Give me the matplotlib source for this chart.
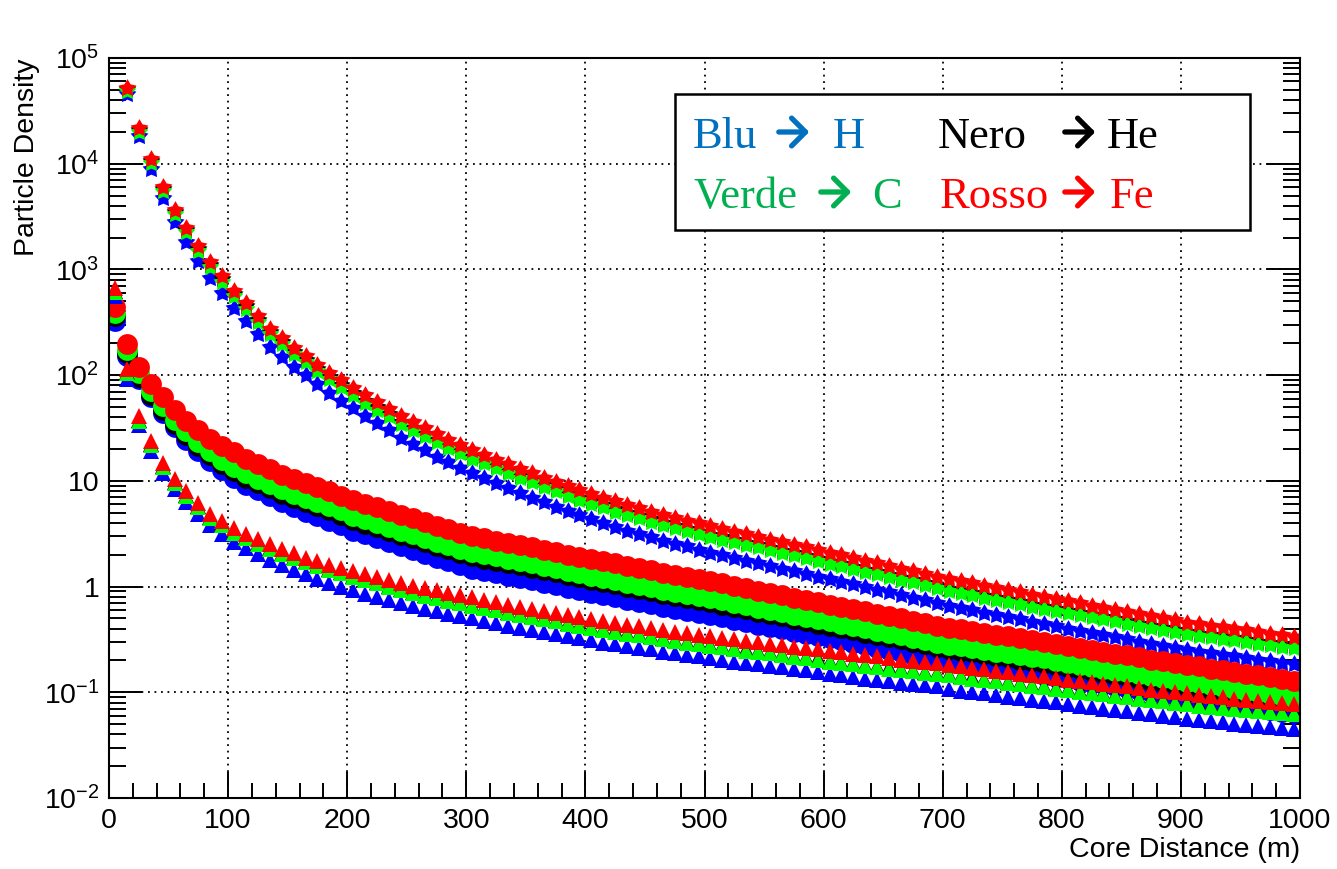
import numpy as np
import matplotlib
matplotlib.use("Agg")
import matplotlib.pyplot as plt
from matplotlib.path import Path
from matplotlib.patches import Rectangle, FancyArrowPatch
from matplotlib.ticker import MultipleLocator, LogLocator, FuncFormatter, NullFormatter

plt.rcParams["font.family"] = ["Liberation Sans", "DejaVu Sans"]
plt.rcParams["mathtext.default"] = "regular"

W, H = 1337, 869

# core distance bin centres (m)
dist = np.arange(5, 1000, 10)
dist_star = dist[1:]

# log10(particle density) -- star markers (first bin is off scale)
star_h = [4.66, 4.26, 3.95, 3.68, 3.45, 3.26, 3.08, 2.92, 2.775,
          2.635, 2.51, 2.39, 2.27, 2.175, 2.08, 2.00, 1.915, 1.835, 1.76,
          1.69, 1.615, 1.55, 1.48, 1.41, 1.35, 1.29, 1.23, 1.175, 1.12,
          1.07, 1.025, 0.98, 0.93, 0.885, 0.84, 0.80, 0.755, 0.715, 0.675,
          0.635, 0.60, 0.565, 0.53, 0.50, 0.47, 0.435, 0.405, 0.38, 0.35,
          0.32, 0.295, 0.27, 0.245, 0.22, 0.195, 0.17, 0.145, 0.12, 0.095,
          0.07, 0.045, 0.02, -0.005, -0.03, -0.055, -0.08, -0.105, -0.13, -0.155,
          -0.185, -0.205, -0.225, -0.25, -0.27, -0.29, -0.31, -0.335, -0.355, -0.375,
          -0.40, -0.42, -0.44, -0.46, -0.48, -0.50, -0.52, -0.54, -0.56, -0.58,
          -0.60, -0.615, -0.63, -0.645, -0.66, -0.675, -0.69, -0.705, -0.72, -0.735]
star_he = [4.71, 4.32, 4.025, 3.76, 3.54, 3.37, 3.195, 3.04, 2.905,
           2.77, 2.65, 2.525, 2.405, 2.315, 2.22, 2.14, 2.06, 1.98, 1.905,
           1.835, 1.76, 1.695, 1.63, 1.56, 1.50, 1.445, 1.39, 1.33, 1.28,
           1.23, 1.185, 1.14, 1.09, 1.045, 1.005, 0.965, 0.92, 0.88, 0.84,
           0.805, 0.77, 0.73, 0.695, 0.665, 0.635, 0.60, 0.57, 0.545, 0.52,
           0.49, 0.465, 0.44, 0.415, 0.39, 0.365, 0.34, 0.315, 0.29, 0.265,
           0.235, 0.21, 0.185, 0.16, 0.135, 0.11, 0.085, 0.06, 0.035, 0.01,
           -0.02, -0.04, -0.06, -0.085, -0.105, -0.125, -0.145, -0.17, -0.19, -0.21,
           -0.23, -0.25, -0.27, -0.29, -0.31, -0.33, -0.35, -0.37, -0.39, -0.41,
           -0.43, -0.445, -0.46, -0.475, -0.49, -0.505, -0.52, -0.535, -0.55, -0.565]
star_c = [4.69, 4.30, 4.005, 3.74, 3.52, 3.35, 3.175, 3.02, 2.885,
          2.75, 2.63, 2.505, 2.385, 2.295, 2.20, 2.12, 2.04, 1.96, 1.885,
          1.815, 1.74, 1.675, 1.61, 1.54, 1.48, 1.425, 1.37, 1.31, 1.26,
          1.21, 1.165, 1.12, 1.07, 1.025, 0.985, 0.945, 0.90, 0.86, 0.82,
          0.785, 0.75, 0.71, 0.675, 0.645, 0.615, 0.58, 0.55, 0.525, 0.50,
          0.47, 0.445, 0.42, 0.395, 0.37, 0.345, 0.32, 0.295, 0.27, 0.245,
          0.215, 0.19, 0.165, 0.14, 0.115, 0.09, 0.065, 0.04, 0.015, -0.01,
          -0.04, -0.06, -0.08, -0.105, -0.125, -0.145, -0.165, -0.19, -0.21, -0.23,
          -0.25, -0.27, -0.29, -0.31, -0.33, -0.35, -0.37, -0.39, -0.41, -0.43,
          -0.45, -0.465, -0.48, -0.495, -0.51, -0.525, -0.54, -0.555, -0.57, -0.585]
star_fe = [4.72, 4.335, 4.04, 3.78, 3.56, 3.39, 3.22, 3.07, 2.935,
           2.80, 2.68, 2.56, 2.44, 2.35, 2.26, 2.18, 2.10, 2.02, 1.95,
           1.88, 1.81, 1.745, 1.68, 1.615, 1.555, 1.50, 1.445, 1.39, 1.34,
           1.29, 1.245, 1.20, 1.155, 1.11, 1.07, 1.03, 0.99, 0.95, 0.91,
           0.875, 0.84, 0.805, 0.77, 0.74, 0.71, 0.68, 0.65, 0.625, 0.60,
           0.57, 0.545, 0.52, 0.495, 0.47, 0.445, 0.42, 0.395, 0.37, 0.345,
           0.32, 0.295, 0.27, 0.245, 0.22, 0.195, 0.17, 0.145, 0.12, 0.095,
           0.07, 0.05, 0.03, 0.005, -0.015, -0.035, -0.055, -0.08, -0.10, -0.12,
           -0.14, -0.16, -0.18, -0.20, -0.22, -0.24, -0.26, -0.28, -0.30, -0.32,
           -0.34, -0.355, -0.37, -0.385, -0.40, -0.415, -0.43, -0.445, -0.46, -0.475]

# log10(particle density) -- circle markers
circ_h = [2.51, 2.18, 1.96, 1.79, 1.64, 1.51, 1.39, 1.28, 1.19, 1.10,
          1.03, 0.965, 0.91, 0.855, 0.80, 0.755, 0.71, 0.665, 0.62, 0.58,
          0.53, 0.495, 0.46, 0.42, 0.385, 0.35, 0.305, 0.27, 0.24, 0.20,
          0.17, 0.145, 0.125, 0.10, 0.08, 0.06, 0.035, 0.015, -0.01, -0.03,
          -0.06, -0.08, -0.10, -0.125, -0.145, -0.165, -0.19, -0.21, -0.23, -0.25,
          -0.27, -0.29, -0.315, -0.335, -0.36, -0.38, -0.40, -0.425, -0.445, -0.47,
          -0.49, -0.51, -0.535, -0.555, -0.58, -0.60, -0.62, -0.645, -0.665, -0.69,
          -0.705, -0.72, -0.735, -0.755, -0.77, -0.785, -0.805, -0.82, -0.835, -0.855,
          -0.87, -0.89, -0.91, -0.925, -0.945, -0.96, -0.98, -1.00, -1.015, -1.03,
          -1.05, -1.065, -1.085, -1.10, -1.12, -1.135, -1.15, -1.17, -1.185, -1.20]
circ_he = [2.555, 2.205, 1.98, 1.81, 1.67, 1.54, 1.43, 1.33, 1.24, 1.16,
           1.09, 1.03, 0.98, 0.93, 0.88, 0.84, 0.80, 0.76, 0.72, 0.68,
           0.63, 0.595, 0.56, 0.525, 0.49, 0.455, 0.42, 0.385, 0.355, 0.32,
           0.29, 0.265, 0.245, 0.22, 0.20, 0.18, 0.155, 0.135, 0.11, 0.09,
           0.06, 0.04, 0.02, -0.005, -0.025, -0.045, -0.07, -0.09, -0.11, -0.13,
           -0.15, -0.17, -0.195, -0.215, -0.24, -0.26, -0.28, -0.305, -0.325, -0.35,
           -0.37, -0.39, -0.415, -0.435, -0.46, -0.48, -0.50, -0.525, -0.545, -0.57,
           -0.59, -0.605, -0.62, -0.64, -0.655, -0.67, -0.69, -0.705, -0.72, -0.74,
           -0.76, -0.78, -0.80, -0.815, -0.835, -0.85, -0.87, -0.89, -0.905, -0.92,
           -0.94, -0.955, -0.975, -0.99, -1.01, -1.025, -1.04, -1.06, -1.075, -1.09]
circ_c = [2.59, 2.24, 2.02, 1.85, 1.71, 1.58, 1.47, 1.37, 1.28, 1.20,
          1.13, 1.07, 1.02, 0.97, 0.92, 0.88, 0.84, 0.80, 0.76, 0.72,
          0.67, 0.635, 0.60, 0.565, 0.53, 0.495, 0.46, 0.425, 0.395, 0.36,
          0.33, 0.305, 0.285, 0.26, 0.24, 0.22, 0.195, 0.175, 0.15, 0.13,
          0.10, 0.08, 0.06, 0.035, 0.015, -0.005, -0.03, -0.05, -0.07, -0.09,
          -0.11, -0.13, -0.155, -0.175, -0.20, -0.22, -0.24, -0.265, -0.285, -0.31,
          -0.33, -0.35, -0.375, -0.395, -0.42, -0.44, -0.46, -0.485, -0.505, -0.53,
          -0.55, -0.565, -0.58, -0.60, -0.615, -0.63, -0.65, -0.665, -0.68, -0.70,
          -0.72, -0.74, -0.76, -0.775, -0.795, -0.81, -0.83, -0.85, -0.865, -0.88,
          -0.90, -0.915, -0.935, -0.95, -0.97, -0.985, -1.00, -1.02, -1.035, -1.05]
circ_fe = [2.64, 2.29, 2.08, 1.92, 1.79, 1.67, 1.57, 1.48, 1.40, 1.33,
           1.27, 1.21, 1.16, 1.11, 1.06, 1.02, 0.98, 0.94, 0.90, 0.86,
           0.82, 0.785, 0.75, 0.715, 0.68, 0.645, 0.61, 0.575, 0.545, 0.51,
           0.48, 0.455, 0.435, 0.41, 0.39, 0.37, 0.345, 0.325, 0.30, 0.28,
           0.26, 0.24, 0.22, 0.195, 0.175, 0.155, 0.13, 0.11, 0.09, 0.07,
           0.05, 0.03, 0.005, -0.015, -0.04, -0.06, -0.08, -0.105, -0.125, -0.15,
           -0.17, -0.19, -0.215, -0.235, -0.26, -0.28, -0.30, -0.325, -0.345, -0.37,
           -0.39, -0.405, -0.42, -0.44, -0.455, -0.47, -0.49, -0.505, -0.52, -0.54,
           -0.56, -0.58, -0.60, -0.615, -0.635, -0.65, -0.67, -0.69, -0.705, -0.72,
           -0.74, -0.755, -0.775, -0.79, -0.81, -0.825, -0.84, -0.86, -0.875, -0.89]

# log10(particle density) -- triangle markers
tri_h = [2.75, 1.96, 1.53, 1.28, 1.07, 0.92, 0.80, 0.69, 0.58, 0.50,
         0.425, 0.365, 0.31, 0.255, 0.205, 0.16, 0.115, 0.075, 0.035, 0.00,
         -0.035, -0.07, -0.10, -0.13, -0.155, -0.185, -0.21, -0.235, -0.26, -0.28,
         -0.30, -0.325, -0.345, -0.37, -0.39, -0.41, -0.43, -0.45, -0.47, -0.49,
         -0.51, -0.53, -0.545, -0.565, -0.58, -0.595, -0.615, -0.63, -0.645, -0.66,
         -0.68, -0.695, -0.71, -0.725, -0.735, -0.75, -0.765, -0.78, -0.79, -0.805,
         -0.83, -0.84, -0.855, -0.87, -0.88, -0.895, -0.91, -0.92, -0.935, -0.945,
         -0.97, -0.985, -1.00, -1.01, -1.025, -1.04, -1.055, -1.07, -1.08, -1.095,
         -1.115, -1.13, -1.14, -1.155, -1.17, -1.18, -1.195, -1.21, -1.22, -1.235,
         -1.25, -1.265, -1.275, -1.285, -1.30, -1.31, -1.32, -1.33, -1.34, -1.35]
tri_he = [2.80, 2.03, 1.58, 1.35, 1.14, 0.99, 0.87, 0.76, 0.66, 0.59,
          0.52, 0.465, 0.415, 0.365, 0.32, 0.28, 0.24, 0.205, 0.17, 0.135,
          0.10, 0.07, 0.04, 0.005, -0.02, -0.05, -0.075, -0.10, -0.125, -0.15,
          -0.17, -0.195, -0.215, -0.24, -0.26, -0.28, -0.30, -0.32, -0.345, -0.365,
          -0.38, -0.40, -0.415, -0.435, -0.45, -0.47, -0.49, -0.505, -0.52, -0.535,
          -0.55, -0.565, -0.58, -0.595, -0.605, -0.62, -0.64, -0.655, -0.665, -0.68,
          -0.70, -0.71, -0.725, -0.74, -0.75, -0.765, -0.78, -0.79, -0.805, -0.815,
          -0.83, -0.845, -0.86, -0.87, -0.885, -0.90, -0.915, -0.93, -0.94, -0.955,
          -0.97, -0.985, -0.995, -1.01, -1.025, -1.035, -1.05, -1.065, -1.075, -1.09,
          -1.10, -1.115, -1.125, -1.135, -1.15, -1.16, -1.17, -1.18, -1.19, -1.20]
tri_c = [2.79, 2.02, 1.57, 1.34, 1.13, 0.98, 0.86, 0.75, 0.65, 0.58,
         0.51, 0.455, 0.405, 0.355, 0.31, 0.27, 0.23, 0.195, 0.16, 0.125,
         0.09, 0.06, 0.03, -0.005, -0.03, -0.06, -0.085, -0.11, -0.135, -0.16,
         -0.18, -0.205, -0.225, -0.25, -0.27, -0.29, -0.31, -0.33, -0.355, -0.375,
         -0.39, -0.41, -0.425, -0.445, -0.46, -0.48, -0.50, -0.515, -0.53, -0.545,
         -0.56, -0.575, -0.59, -0.605, -0.615, -0.63, -0.65, -0.665, -0.675, -0.69,
         -0.71, -0.72, -0.735, -0.75, -0.76, -0.775, -0.79, -0.80, -0.815, -0.825,
         -0.84, -0.855, -0.87, -0.88, -0.895, -0.91, -0.925, -0.94, -0.95, -0.965,
         -0.98, -0.995, -1.005, -1.02, -1.035, -1.045, -1.06, -1.075, -1.085, -1.10,
         -1.11, -1.125, -1.135, -1.145, -1.16, -1.17, -1.18, -1.19, -1.20, -1.21]
tri_fe = [2.82, 2.06, 1.61, 1.38, 1.17, 1.02, 0.90, 0.79, 0.69, 0.62,
          0.555, 0.50, 0.45, 0.40, 0.355, 0.315, 0.275, 0.24, 0.205, 0.175,
          0.145, 0.115, 0.09, 0.06, 0.035, 0.01, -0.015, -0.035, -0.06, -0.08,
          -0.10, -0.125, -0.145, -0.17, -0.19, -0.21, -0.23, -0.25, -0.27, -0.29,
          -0.305, -0.325, -0.34, -0.36, -0.375, -0.39, -0.41, -0.425, -0.44, -0.455,
          -0.47, -0.485, -0.50, -0.515, -0.525, -0.54, -0.555, -0.57, -0.58, -0.595,
          -0.61, -0.62, -0.635, -0.65, -0.66, -0.675, -0.69, -0.70, -0.715, -0.725,
          -0.74, -0.755, -0.77, -0.78, -0.795, -0.81, -0.825, -0.84, -0.85, -0.865,
          -0.88, -0.895, -0.905, -0.92, -0.935, -0.945, -0.96, -0.975, -0.985, -1.00,
          -1.01, -1.025, -1.035, -1.045, -1.06, -1.07, -1.08, -1.09, -1.10, -1.11]

colors = ["#0000ff", "#000000", "#00ff00", "#ff0000"]   # H, He, C, Fe

# chunky five-pointed star, closer to ROOT's full star than "*"
fat_star = Path.unit_regular_star(5, innerCircle=0.55)


def px(x, y):
    return x / W, 1 - y / H


fig = plt.figure(figsize=(W / 100, H / 100), dpi=100)
ax = fig.add_axes([109 / W, 1 - 798 / H, 1191 / W, 740 / H])

groups = [
    (dist_star, [star_h, star_he, star_c, star_fe], fat_star, 13.5),
    (dist, [circ_h, circ_he, circ_c, circ_fe], "o", 15),
    (dist, [tri_h, tri_he, tri_c, tri_fe], "^", 12),
]
for x, sets, mk, ms in groups:
    for vals, col in zip(sets, colors):
        ax.plot(x, np.power(10.0, vals), ls="none", marker=mk, ms=ms,
                mew=0, color=col)

ax.set_yscale("log")
ax.set_xlim(0, 1000)
ax.set_ylim(1e-2, 1e5)

ax.xaxis.set_major_locator(MultipleLocator(100))
ax.xaxis.set_minor_locator(MultipleLocator(20))
ax.yaxis.set_major_locator(LogLocator(base=10, numticks=20))
ax.yaxis.set_minor_locator(LogLocator(base=10, subs=np.arange(2, 10), numticks=20))
ax.yaxis.set_minor_formatter(NullFormatter())


def ylab(v, pos):
    n = int(round(np.log10(v)))
    if n == 0:
        return "1"
    if n == 1:
        return "10"
    return "10$^{%d}$" % n


ax.yaxis.set_major_formatter(FuncFormatter(ylab))

ax.tick_params(axis="both", which="both", direction="in", width=1.4,
               labelsize=20.5, top=False)
ax.tick_params(axis="y", which="both", left=True, right=True, pad=7)
ax.tick_params(axis="y", which="major", length=24)
ax.tick_params(axis="y", which="minor", length=12.5)
ax.tick_params(axis="x", which="major", length=19, pad=7)
ax.tick_params(axis="x", which="minor", length=11)

ax.set_axisbelow(True)
ax.grid(True, which="major", color="black", linestyle=(0, (1, 2.6)), linewidth=1.3)
for s in ax.spines.values():
    s.set_linewidth(1.5)

fig.text(*px(27, 58), "Particle Density", rotation=90, ha="center", va="top",
         fontsize=20.5)
fig.text(*px(1300, 850), "Core Distance (m)", ha="right", va="center",
         fontsize=20.5)

# colour key box
x0, y0 = px(675, 230)
box = Rectangle((x0, y0), 575 / W, 136 / H, transform=fig.transFigure,
                facecolor="white", edgecolor="black", linewidth=1.8, zorder=5)
fig.add_artist(box)

key = [
    ("Blu", "H", "#0070c0", 693, 776, 833, 148),
    ("Nero", "He", "#000000", 938, 1062, 1107, 148),
    ("Verde", "C", "#00b050", 693, 818, 872, 208),
    ("Rosso", "Fe", "#ff0000", 940, 1062, 1110, 208),
]
serif = ["Liberation Serif", "DejaVu Serif"]
for word, elem, col, xw, xa, xe, yb in key:
    fig.text(*px(xw, yb), word, color=col, fontsize=32, family=serif,
             ha="left", va="baseline", zorder=6)
    fig.text(*px(xe, yb), elem, color=col, fontsize=32, family=serif,
             ha="left", va="baseline", zorder=6)
    arr = FancyArrowPatch(px(xa, yb - 16), px(xa + 36, yb - 16),
                          transform=fig.transFigure,
                          arrowstyle="->,head_length=0.5,head_width=0.5",
                          mutation_scale=20, lw=3.8, color=col, zorder=6)
    fig.add_artist(arr)

fig.savefig("out.png", dpi=100)
